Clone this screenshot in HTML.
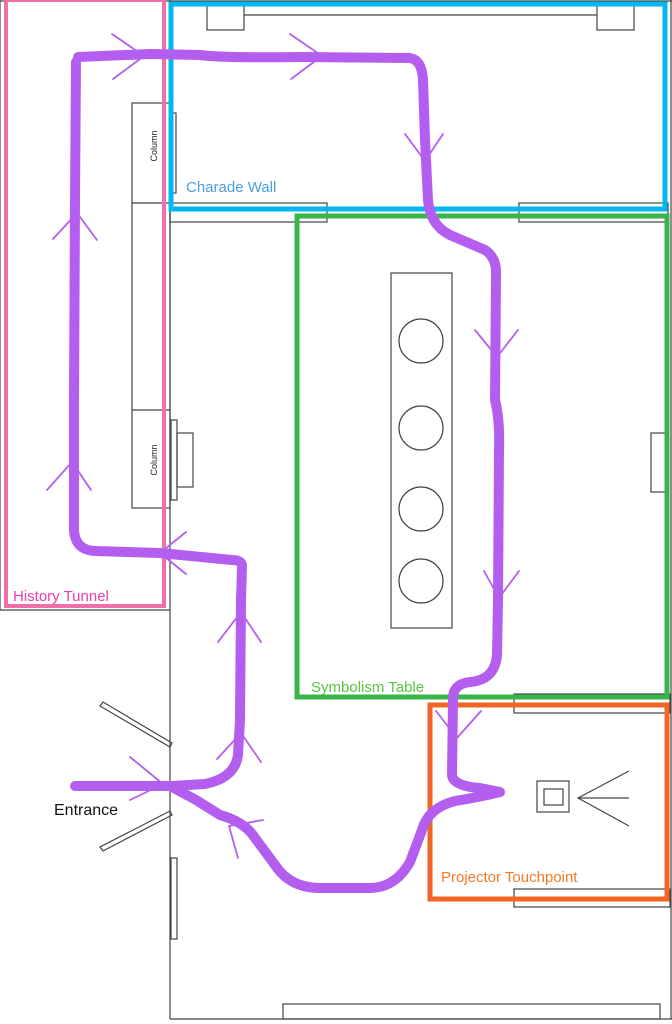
<!DOCTYPE html>
<html><head><style>html,body{margin:0;padding:0;background:#fff}svg{display:block}</style></head>
<body>
<svg width="672" height="1024" viewBox="0 0 672 1024" xmlns="http://www.w3.org/2000/svg" font-family="Liberation Sans, sans-serif">
<g fill="none" stroke="#444" stroke-width="1.2">
<line x1="0" y1="1" x2="672" y2="1"/>
<line x1="0" y1="0" x2="0" y2="610"/>
<line x1="0" y1="610" x2="170" y2="610"/>
<line x1="170" y1="610" x2="170" y2="1019"/>
<line x1="170" y1="1019" x2="672" y2="1019"/>
<line x1="671" y1="0" x2="671" y2="1019"/>
<line x1="170" y1="0" x2="170" y2="610"/>
<rect x="207" y="3" width="37" height="27"/>
<rect x="597" y="3" width="37" height="27"/>
<line x1="244" y1="15" x2="597" y2="15"/>
<rect x="132" y="103" width="38" height="405"/>
<line x1="132" y1="203" x2="170" y2="203"/>
<line x1="132" y1="410" x2="170" y2="410"/>
<rect x="170" y="113" width="6" height="80"/>
<rect x="171" y="420" width="6" height="80"/>
<rect x="177" y="433" width="16" height="54"/>
<rect x="170" y="203" width="157" height="19"/>
<rect x="519" y="203" width="149" height="19"/>
<rect x="391" y="273" width="61" height="355"/>
<circle cx="421" cy="341" r="22"/>
<circle cx="421" cy="428" r="22"/>
<circle cx="421" cy="509" r="22"/>
<circle cx="421" cy="581" r="22"/>
<rect x="651" y="433" width="15" height="59"/>
<rect x="514" y="694" width="156" height="19"/>
<rect x="514" y="889" width="156" height="18"/>
<rect x="537" y="781" width="32" height="31"/>
<rect x="544" y="789" width="19" height="16"/>
<polyline points="629,771 578,798 629,826"/>
<line x1="578" y1="798" x2="629" y2="798"/>
<polygon points="100,706 103,702 172,743 170,747"/>
<polygon points="100,847 103,851 172,815 170,811"/>
<rect x="171" y="858" width="6" height="81"/>
<rect x="283" y="1004" width="377" height="15"/>
</g>
<g font-size="9" fill="#222">
<text transform="translate(157,146) rotate(-90)" text-anchor="middle">Column</text>
<text transform="translate(157,460) rotate(-90)" text-anchor="middle">Column</text>
</g>
<rect x="6" y="0" width="158" height="606" fill="none" stroke="#f06fa8" stroke-width="4"/>
<rect x="171" y="4" width="494" height="205" fill="none" stroke="#00b8ef" stroke-width="5"/>
<rect x="297" y="216" width="370" height="481" fill="none" stroke="#3ab54a" stroke-width="5"/>
<rect x="430" y="705" width="237" height="194" fill="none" stroke="#f26522" stroke-width="5"/>
<g fill="none" stroke="#b45ef0" stroke-linecap="round" stroke-linejoin="round">
<path stroke-width="10" d="M78,57 L150,54 L200,55 Q220,58 300,57 L410,58 Q422,60 423,80 L425,140 L428,200 Q430,225 450,235 L485,250 Q497,258 496,275 L495,400 Q500,420 499,450 L498,600 L497,655 Q495,680 470,682 Q452,684 453,700 L452,775 Q453,786 480,788 L500,792 Q480,797 455,801 Q428,808 422,830 L410,862 Q395,888 370,888 L320,888 Q290,888 275,865 L255,838 Q245,822 220,815 L196,800 L172,787 M75,786 L172,786 L205,784 Q235,778 238,755 L240,720 L241,600 L242,566 Q242,560 232,560 L160,553 L95,551 Q75,550 74,530 L74,400 L75,200 L76,62"/>
<g stroke-width="1.8">
<polyline points="112,34 144,56 113,79"/>
<polyline points="290,34 322,56 291,79"/>
<polyline points="405,134 425,161 443,134"/>
<polyline points="53,239 77,213 97,240"/>
<polyline points="47,490 72,462 91,490"/>
<polyline points="186,532 160,553 186,574"/>
<polyline points="475,330 497,357 518,330"/>
<polyline points="484,571 499,598 519,571"/>
<polyline points="436,711 457,738 481,711"/>
<polyline points="218,642 241,612 261,642"/>
<polyline points="217,759 241,733 261,762"/>
<polyline points="130,757 163,784 130,800"/>
<polyline points="238,858 229,826 263,820"/>
</g>
</g>
<text x="186" y="192" font-size="15" fill="#4a9fe0">Charade Wall</text>
<text x="13" y="601" font-size="15" fill="#e83fb0">History Tunnel</text>
<text x="311" y="692" font-size="15" fill="#5ac540">Symbolism Table</text>
<text x="441" y="882" font-size="15" fill="#f47a20">Projector Touchpoint</text>
<text x="54" y="815" font-size="16" fill="#111">Entrance</text>
</svg>
</body></html>
